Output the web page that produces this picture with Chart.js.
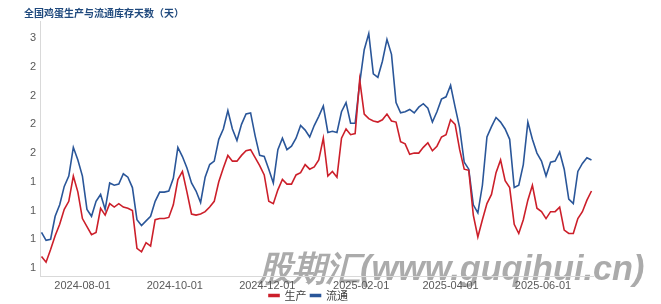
<!DOCTYPE html>
<html>
<head>
<meta charset="utf-8">
<script src="https://cdn.jsdelivr.net/npm/chart.js@4.4.1/dist/chart.umd.min.js"></script>
<style>
html, body { margin: 0; padding: 0; background: #fff; }
#wrap { width: 661px; height: 304px; }
</style>
</head>
<body>
<div id="wrap"><canvas id="eggChart" width="661" height="304"></canvas></div>
<script>
// 全国鸡蛋生产与流通库存天数, one value every 3 days from 2024-07-05
var chartTitle = '全国鸡蛋生产与流通库存天数（天）';
var seriesNames = ['生产', '流通'];
var firstDate = '2024-07-05';
var stepDays = 3;

var production = [
    0.60, 0.55, 0.66, 0.78, 0.88, 1.01, 1.08, 1.30, 1.16, 0.93,
    0.86, 0.79, 0.81, 1.02, 0.96, 1.06, 1.03, 1.06, 1.03, 1.02,
    1.00, 0.67, 0.64, 0.72, 0.69, 0.92, 0.93, 0.93, 0.94, 1.05,
    1.27, 1.34, 1.16, 0.97, 0.96, 0.97, 0.99, 1.03, 1.08, 1.25,
    1.37, 1.48, 1.43, 1.43, 1.48, 1.52, 1.53, 1.46, 1.39, 1.31,
    1.08, 1.06, 1.18, 1.27, 1.23, 1.23, 1.31, 1.33, 1.40, 1.36,
    1.38, 1.44, 1.63, 1.30, 1.34, 1.29, 1.63, 1.71, 1.66, 1.67,
    2.14, 1.84, 1.80, 1.78, 1.77, 1.79, 1.84, 1.78, 1.77, 1.60,
    1.58, 1.49, 1.50, 1.50, 1.55, 1.59, 1.52, 1.56, 1.64, 1.66,
    1.79, 1.75, 1.53, 1.36, 1.35, 0.96, 0.77, 0.92, 1.06, 1.14,
    1.33, 1.44, 1.26, 1.20, 0.88, 0.80, 0.92, 1.09, 1.22, 1.02,
    0.99, 0.93, 0.99, 0.99, 1.03, 0.83, 0.80, 0.80, 0.93, 0.99,
    1.09, 1.17
];

var circulation = [
    0.81, 0.74, 0.75, 0.95, 1.05, 1.21, 1.30, 1.55, 1.44, 1.30,
    1.01, 0.95, 1.08, 1.14, 1.01, 1.24, 1.22, 1.23, 1.32, 1.29,
    1.20, 0.92, 0.87, 0.91, 0.95, 1.08, 1.16, 1.16, 1.17, 1.28,
    1.55, 1.47, 1.37, 1.24, 1.17, 1.07, 1.29, 1.40, 1.43, 1.62,
    1.71, 1.87, 1.71, 1.61, 1.75, 1.84, 1.85, 1.65, 1.48, 1.47,
    1.36, 1.24, 1.53, 1.63, 1.53, 1.56, 1.63, 1.74, 1.70, 1.64,
    1.74, 1.82, 1.91, 1.68, 1.69, 1.68, 1.86, 1.94, 1.76, 1.76,
    2.11, 2.40, 2.54, 2.19, 2.16, 2.30, 2.49, 2.36, 1.94, 1.85,
    1.86, 1.88, 1.85, 1.90, 1.93, 1.89, 1.77, 1.86, 1.97, 1.99,
    2.09, 1.90, 1.72, 1.42, 1.36, 1.05, 0.98, 1.22, 1.64, 1.73,
    1.81, 1.77, 1.71, 1.62, 1.20, 1.22, 1.40, 1.77, 1.62, 1.50,
    1.43, 1.30, 1.42, 1.43, 1.51, 1.36, 1.10, 1.06, 1.34, 1.41,
    1.46, 1.44
];

var xTickLabels = ['2024-08-01', '2024-10-01', '2024-12-01', '2025-02-01', '2025-04-01', '2025-06-01'];
var yTickValues = [0.5, 0.75, 1.0, 1.25, 1.5, 1.75, 2.0, 2.25, 2.5];

function dayOffset(s) {
    return Math.round((Date.parse(s) - Date.parse(firstDate)) / 864e5);
}

// x position of every point = days since firstDate
var days = production.map(function (v, i) { return i * stepDays; });

// site watermark, drawn first so axis text stays readable on top
var watermark = {
    id: 'watermark',
    beforeDraw: function (chart) {
        var ctx = chart.ctx;
        var text = '股期汇(www.guqihui.cn)';
        ctx.save();
        ctx.font = 'italic bold 36px "Liberation Sans", Arial, sans-serif';
        var w = ctx.measureText(text).width;
        var size = 36 * 387 / w;
        ctx.font = 'italic bold ' + size.toFixed(1) + 'px "Liberation Sans", Arial, sans-serif';
        ctx.fillStyle = 'rgba(150,150,150,0.8)';
        ctx.textBaseline = 'alphabetic';
        ctx.fillText(text, 258, 280);
        ctx.restore();
    }
};

// pull the legend up a little, it sits right under the date labels
var legendNudge = {
    id: 'legendNudge',
    afterLayout: function (chart) {
        if (chart.legend) {
            chart.legend.top -= 6;
            chart.legend.bottom -= 6;
        }
    }
};

var ctx = document.getElementById('eggChart').getContext('2d');
var eggChart = new Chart(ctx, {
    type: 'line',
    data: {
        labels: days,
        datasets: [
            {
                label: seriesNames[0],
                data: production,
                borderColor: '#cc1f2a',
                backgroundColor: '#cc1f2a',
                borderWidth: 1.6,
                pointRadius: 0,
                tension: 0
            },
            {
                label: seriesNames[1],
                data: circulation,
                borderColor: '#2a5699',
                backgroundColor: '#2a5699',
                borderWidth: 1.6,
                pointRadius: 0,
                tension: 0
            }
        ]
    },
    options: {
        responsive: false,
        animation: false,
        devicePixelRatio: 1,
        layout: { padding: { left: 24, right: 68, top: 0, bottom: -13 } },
        plugins: {
            title: {
                display: true,
                text: chartTitle,
                align: 'start',
                color: '#1f497d',
                font: { size: 10, weight: 'bold', family: '"Noto Sans CJK SC", sans-serif' },
                padding: { top: 7, bottom: 2 }
            },
            legend: {
                position: 'bottom',
                labels: {
                    boxWidth: 10,
                    boxHeight: 2,
                    padding: 4,
                    color: '#404040',
                    font: { size: 11, family: '"Noto Sans CJK SC", sans-serif' }
                }
            },
            tooltip: { enabled: false }
        },
        scales: {
            x: {
                type: 'linear',
                min: -1,
                max: 364,
                grid: { display: false, drawTicks: false },
                border: { color: '#d9d9d9' },
                afterBuildTicks: function (axis) {
                    axis.ticks = xTickLabels.map(function (l) { return { value: dayOffset(l) }; });
                },
                afterFit: function (scale) { scale.height = 16; },
                ticks: {
                    autoSkip: false,
                    maxRotation: 0,
                    padding: 3,
                    color: '#595959',
                    font: { size: 11, family: '"Liberation Sans", Arial, sans-serif' },
                    callback: function (value) {
                        for (var i = 0; i < xTickLabels.length; i++) {
                            if (dayOffset(xTickLabels[i]) === value) return xTickLabels[i];
                        }
                        return '';
                    }
                }
            },
            y: {
                min: 0.43,
                max: 2.65,
                grid: { display: false, drawTicks: false },
                border: { color: '#d9d9d9' },
                afterBuildTicks: function (axis) {
                    axis.ticks = yTickValues.map(function (v) { return { value: v }; });
                },
                afterFit: function (scale) { scale.width = 16; },
                ticks: {
                    padding: 4,
                    color: '#595959',
                    font: { size: 11, family: '"Liberation Sans", Arial, sans-serif' },
                    callback: function (value) { return Math.round(value); }
                }
            }
        }
    },
    plugins: [watermark, legendNudge]
});
</script>
</body>
</html>
